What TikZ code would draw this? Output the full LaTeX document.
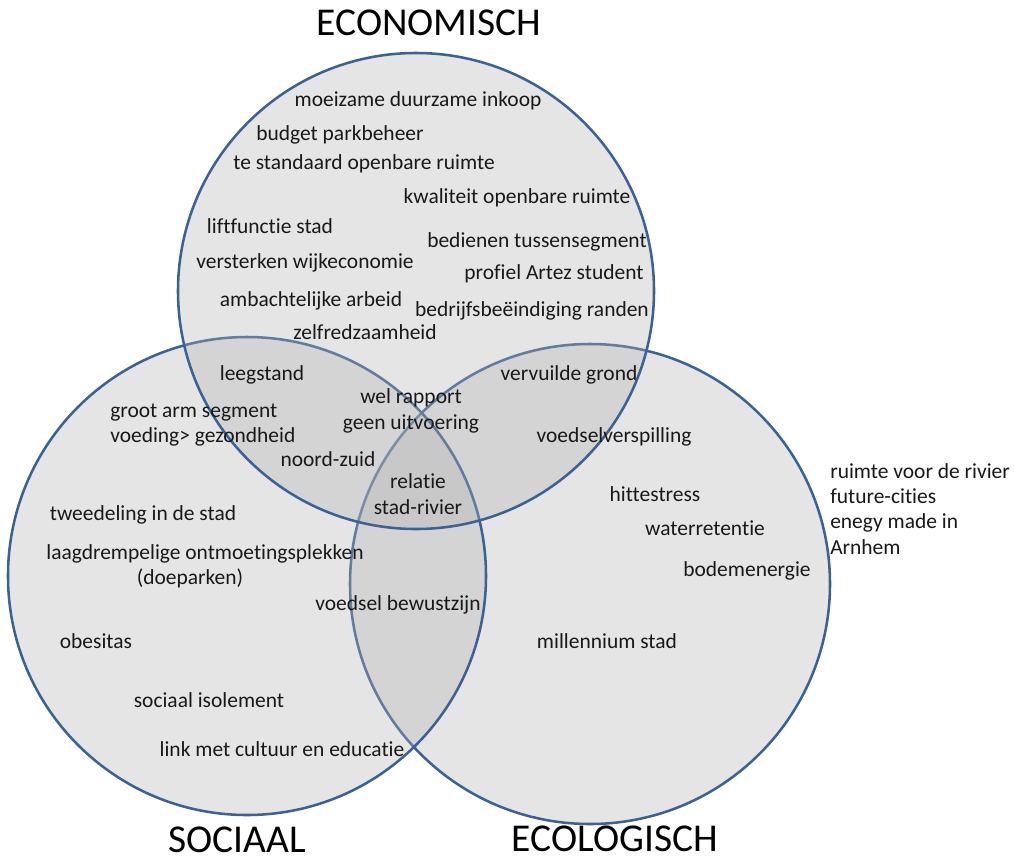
\documentclass[tikz,border=0pt]{standalone}
\usepackage{fontspec}
\setmainfont{Carlito}[Ligatures=CommonOff]
\definecolor{ring}{RGB}{58,98,148}
\begin{document}
\begin{tikzpicture}[x=0.75pt,y=-0.75pt,
  lbl/.style={font=\fontsize{16.1}{19}\selectfont, inner sep=0pt, anchor=mid, text=black!90, yshift=-2.3pt},
  lblw/.style={lbl, anchor=mid west},
  ttl/.style={font=\fontsize{29.6}{34}\selectfont, inner sep=0pt, anchor=center},
  venn/.style={draw=ring, line width=1.9pt, fill=black!30, fill opacity=0.33}]
\useasboundingbox (0,0) rectangle (1014,861);
\fill[white] (0,0) rectangle (1014,861);
% circles: ecologisch, sociaal, economisch
\path[venn] (590,584) circle[radius=180pt];
\path[venn] (247,576) circle[radius=179.25pt];
\path[venn] (416,291) circle[radius=178.5pt];
% titles
\node[ttl] (tEco) at (429,23) {ECONOMISCH};
\node[ttl] (tSoc) at (237,840) {SOCIAAL};
\node[ttl] (tEcl) at (615,839) {ECOLOGISCH};
% economisch
\node[lbl] (e1) at (418,100) {moeizame duurzame inkoop};
\node[lbl] (e2) at (340,134) {budget parkbeheer};
\node[lbl] (e3) at (364,163) {te standaard openbare ruimte};
\node[lbl] (e4) at (517,197) {kwaliteit openbare ruimte};
\node[lbl] (e5) at (270,227) {liftfunctie stad};
\node[lbl] (e6) at (537,241) {bedienen tussensegment};
\node[lbl] (e7) at (305,262) {versterken wijkeconomie};
\node[lbl] (e8) at (554,273) {profiel Artez student};
\node[lbl] (e9) at (311,300) {ambachtelijke arbeid};
\node[lbl] (e10) at (532,310) {bedrijfsbeëindiging randen};
\node[lbl] (e11) at (365,333) {zelfredzaamheid};
% economisch + sociaal
\node[lbl] (es1) at (262,374) {leegstand};
\node[lblw] (es2) at (110,411) {groot arm segment};
\node[lblw] (es3) at (110,436) {voeding> gezondheid};
\node[lbl] (es4) at (328,460) {noord-zuid};
% centre
\node[lbl] (c1a) at (411,397) {wel rapport};
\node[lbl] (c1b) at (411,423) {geen uitvoering};
\node[lbl] (c2a) at (418,482) {relatie};
\node[lbl] (c2b) at (418,508) {stad-rivier};
% economisch + ecologisch
\node[lbl] (eo1) at (569,374) {vervuilde grond};
% ecologisch
\node[lbl] (o1) at (614,436) {voedselverspilling};
\node[lbl] (o2) at (655,495) {hittestress};
\node[lbl] (o3) at (705,529) {waterretentie};
\node[lbl] (o4) at (747,570) {bodemenergie};
\node[lbl] (o5) at (607,642) {millennium stad};
% sociaal
\node[lbl] (s1) at (143,514) {tweedeling in de stad};
\node[lbl] (s2) at (205,553) {laagdrempelige ontmoetingsplekken};
\node[lbl] (s3) at (190,578) {(doeparken)};
\node[lbl] (so1) at (398,604) {voedsel bewustzijn};
\node[lbl] (s4) at (96,642) {obesitas};
\node[lbl] (s5) at (209,701) {sociaal isolement};
\node[lbl] (s6) at (282,750) {link met cultuur en educatie};
% outside
\node[lblw] (x1) at (830,472) {ruimte voor de rivier};
\node[lblw] (x2) at (830,497) {future-cities};
\node[lblw] (x3) at (830,522) {enegy made in};
\node[lblw] (x4) at (830,548) {Arnhem};
\end{tikzpicture}
\end{document}
